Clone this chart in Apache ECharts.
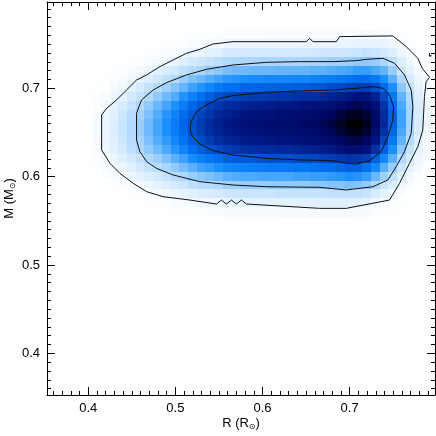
<!DOCTYPE html>
<html>
<head>
<meta charset="utf-8">
<script src="https://cdn.jsdelivr.net/npm/echarts@6/dist/echarts.min.js"></script>
<style>
html,body{margin:0;padding:0;background:#fff;}
#chart{width:436px;height:436px;}
</style>
</head>
<body>
<div id="chart"></div>
<script>
// Axis ranges and ticks
const rRange = [0.3526, 0.798];
const mRange = [0.3528, 0.7977];
const majorTicks = [0.4, 0.5, 0.6, 0.7];
const minorTicksR = [0.36,0.37,0.38,0.39,0.41,0.42,0.43,0.44,0.45,0.46,0.47,0.48,0.49,0.51,0.52,0.53,0.54,0.55,0.56,0.57,0.58,0.59,0.61,0.62,0.63,0.64,0.65,0.66,0.67,0.68,0.69,0.71,0.72,0.73,0.74,0.75,0.76,0.77,0.78,0.79];
const minorTicksM = minorTicksR;

// Density grid: cell centres
const rValues = [0.41,0.42,0.43,0.44,0.45,0.46,0.47,0.48,0.49,0.50,0.51,0.52,0.53,0.54,0.55,0.56,0.57,0.58,0.59,0.60,0.61,0.62,0.63,0.64,0.65,0.66,0.67,0.68,0.69,0.70,0.71,0.72,0.73,0.74,0.75,0.76,0.77,0.78,0.79];
const mValues = [0.76,0.75,0.74,0.73,0.72,0.71,0.70,0.69,0.68,0.67,0.66,0.65,0.64,0.63,0.62,0.61,0.60,0.59,0.58,0.57,0.56];

// density (0-100) per R column, listed from M=0.76 down to M=0.56
const densityByR = [
 [0,0,0,0,0,0.1,0.3,0.7,1.1,1.6,1.9,2,1.8,1.4,0.9,0.5,0.2,0,0,0,0],
 [0,0,0,0,0.1,0.3,1,2,3.1,4.2,4.8,5,4.6,3.8,2.7,1.5,0.7,0.2,0,0,0],
 [0,0,0,0,0.3,1,2.2,3.8,5.5,7,7.8,8,7.4,6.2,4.5,2.8,1.4,0.5,0.1,0,0],
 [0,0,0,0.1,0.6,1.8,3.7,6.1,8.6,11,12,12,11,9.6,7.1,4.6,2.5,1,0.2,0,0],
 [0,0,0.1,0.3,1.4,3.4,6.1,9.5,13,16,17,17,16,14,10,6.8,3.9,1.7,0.5,0.1,0],
 [0,0,0.2,0.9,2.7,5.5,9.5,13,18,20,22,22,20,18,13,9.5,5.5,2.7,0.9,0.2,0],
 [0,0.1,0.4,1.6,4.2,8,13,18,23,26,28,28,26,23,18,13,8,4.2,1.6,0.4,0.1],
 [0,0.2,0.9,2.9,6.5,11,17,23,29,32,34,34,32,28,22,16,10,5.6,2.4,0.6,0.1],
 [0.1,0.3,1.3,4,8.4,14,21,28,34,38,40,40,37,33,26,19,13,7.4,3.2,1,0.2],
 [0.1,0.5,2,5.1,10,17,25,32,40,44,46,46,43,38,31,23,16,9.2,4.4,1.5,0.4],
 [0.2,0.8,3.1,7.3,14,22,30,39,46,51,53,52,49,44,35,27,18,11,5.3,1.9,0.5],
 [0.3,1.3,4.3,9.3,17,26,35,45,53,57,60,59,56,50,41,31,22,14,6.9,2.7,0.8],
 [0.4,1.6,5,11,19,29,39,50,58,63,66,65,61,55,45,35,24,16,8.1,3.3,1],
 [0.6,2.1,6.2,13,22,32,43,55,64,68,71,70,66,59,48,37,26,16,8.5,3.6,1.1],
 [0.8,2.6,7,15,24,35,47,59,67,72,75,74,70,62,51,40,28,18,9.4,4.1,1.2],
 [1.2,3.9,9,17,27,38,50,62,71,75,78,76,73,66,55,43,31,21,11,5.5,1.9],
 [1.2,4,9.2,18,28,39,51,63,72,77,80,78,74,67,56,44,32,21,12,5.6,1.9],
 [1.2,4.1,9.4,18,28,40,53,65,74,79,82,80,76,69,57,45,33,22,12,5.7,2],
 [1.2,4.2,9.5,18,29,41,53,66,75,80,83,81,77,70,58,46,33,22,12,5.8,2],
 [1.3,4.2,9.7,19,29,41,54,66,76,81,84,82,78,71,59,46,34,22,12,5.9,2],
 [1.3,4.3,9.8,19,29,42,54,67,77,82,85,83,79,71,60,47,34,23,12,6,2],
 [1.3,4.3,9.9,19,30,42,55,68,78,83,86,84,80,72,60,47,34,23,13,6,2.1],
 [1.3,4.3,9.9,19,30,42,55,68,78,83,86,84,80,72,60,47,34,23,13,6,2.1],
 [1.3,4.4,10,19,30,43,56,69,79,84,87,85,81,73,61,48,35,23,13,6.1,2.1],
 [1.3,4.4,10,19,30,43,56,70,80,85,88,86,82,74,62,48,35,23,13,6.2,2.1],
 [1.3,4.5,10,20,31,44,57,70,81,86,89,87,83,75,62,49,36,24,13,6.2,2.1],
 [1.4,4.6,11,20,31,45,58,72,82,88,91,89,85,76,64,50,36,24,13,6.4,2.2],
 [1.4,4.7,11,21,32,46,60,74,84,90,93,91,87,78,65,51,37,25,14,6.5,2.2],
 [1.4,4.8,11,21,33,47,61,76,87,93,96,94,89,81,67,53,38,25,14,6.7,2.3],
 [1.5,5,11,22,34,49,63,78,90,96,99,97,92,83,69,55,40,26,14,6.9,2.4],
 [1.6,5.5,12,23,36,51,65,81,92,97,100,98,93,83,68,54,39,25,14,6.5,2],
 [1.7,5.8,13,23,36,50,65,80,89,95,97,95,89,80,65,50,36,23,13,5.8,1.7],
 [1.6,5.4,12,22,33,47,60,74,82,87,88,85,79,69,55,42,29,18,8.8,3.5,1],
 [1.5,4.9,10,19,30,40,52,62,68,71,72,69,63,54,43,31,21,12,5.8,1.9,0.5],
 [1,3.5,7.7,14,22,31,40,47,52,55,55,52,47,40,31,22,14,7.7,3.5,1,0.3],
 [0.3,1.3,3.7,7.5,12,18,24,30,33,35,35,33,30,24,18,12,7.5,3.7,1.3,0.3,0.1],
 [0.1,0.4,1.4,3.4,6.1,9.5,13,17,19,20,20,19,17,13,9.5,6.1,3.4,1.4,0.4,0.1,0],
 [0,0.1,0.4,1.1,2.3,3.9,5.5,7.3,8.3,8.9,8.9,8.3,7.3,5.5,3.9,2.3,1.1,0.4,0.1,0,0],
 [0,0,0.1,0.2,0.6,1.1,1.7,2.3,2.8,3,3,2.8,2.3,1.7,1.1,0.6,0.2,0.1,0,0,0]
];

// Contours (R, M)
const outerContour = [[0.4153,0.6698],[0.4210,0.6773],[0.4325,0.6868],[0.4439,0.6981],[0.4554,0.7094],[0.4669,0.7151],[0.4822,0.7245],[0.4974,0.7321],[0.5127,0.7396],[0.5280,0.7442],[0.5433,0.7502],[0.5662,0.7528],[0.6503,0.7528],[0.6541,0.7566],[0.6579,0.7528],[0.6847,0.7528],[0.6885,0.7585],[0.7496,0.7593],[0.7649,0.7472],[0.7783,0.7340],[0.7833,0.7227],[0.7917,0.7125],[0.7878,0.7075],[0.7859,0.6906],[0.7840,0.6528],[0.7783,0.6339],[0.7687,0.6151],[0.7573,0.5924],[0.7458,0.5735],[0.6961,0.5641],[0.6656,0.5641],[0.5815,0.5690],[0.5758,0.5735],[0.5700,0.5690],[0.5643,0.5735],[0.5586,0.5690],[0.5528,0.5735],[0.5471,0.5690],[0.5165,0.5735],[0.4860,0.5773],[0.4669,0.5830],[0.4516,0.5924],[0.4363,0.6037],[0.4248,0.6151],[0.4153,0.6302],[0.4153,0.6698]];
const smallContour = [[0.7915,0.7366],[0.7920,0.7384],[0.7932,0.7386],[0.7939,0.7368],[0.7934,0.7350],[0.7921,0.7349],[0.7915,0.7366],[0.7918,0.7400]];
const middleContour = [[0.4554,0.6415],[0.4554,0.6717],[0.4611,0.6868],[0.4745,0.6981],[0.4898,0.7064],[0.5127,0.7151],[0.5357,0.7215],[0.5662,0.7264],[0.6044,0.7294],[0.6426,0.7302],[0.6809,0.7302],[0.7076,0.7313],[0.7191,0.7328],[0.7382,0.7340],[0.7516,0.7283],[0.7630,0.7151],[0.7707,0.6981],[0.7726,0.6792],[0.7707,0.6490],[0.7630,0.6283],[0.7535,0.6113],[0.7439,0.5962],[0.7267,0.5886],[0.6961,0.5849],[0.6656,0.5879],[0.6044,0.5886],[0.5662,0.5905],[0.5280,0.5943],[0.4974,0.6019],[0.4783,0.6094],[0.4669,0.6170],[0.4592,0.6283],[0.4554,0.6415]];
const innerContour = [[0.5173,0.6509],[0.5173,0.6604],[0.5242,0.6736],[0.5357,0.6811],[0.5509,0.6887],[0.5662,0.6917],[0.6044,0.6955],[0.6426,0.6970],[0.6809,0.6981],[0.7076,0.7000],[0.7267,0.7019],[0.7382,0.7000],[0.7458,0.6925],[0.7504,0.6792],[0.7496,0.6641],[0.7439,0.6453],[0.7363,0.6283],[0.7229,0.6181],[0.7076,0.6143],[0.6961,0.6151],[0.6809,0.6181],[0.6426,0.6189],[0.6044,0.6207],[0.5662,0.6245],[0.5433,0.6294],[0.5280,0.6370],[0.5196,0.6453],[0.5173,0.6509]];

const colorStops = ['#ffffff','#d2e9ff','#a6d3ff','#63b3ff','#1a8fff','#0070f0','#004ec8','#002ea0','#00127c','#000660','#000000'];

const cells = [];
rValues.forEach((r, i) => {
  mValues.forEach((m, j) => {
    const v = densityByR[i][j];
    if (v > 0.05) cells.push([r, m, v]);
  });
});
const halfR = (rValues[1] - rValues[0]) / 2;
const halfM = (mValues[0] - mValues[1]) / 2;

const FONT = '"Liberation Sans", Arial, Helvetica, sans-serif';
const fmt = v => v.toFixed(1);

function mkAxis(pos, range, kind, withLabel, name, nameRich) {
  const ax = {
    type: 'value', position: pos, min: range[0], max: range[1], z: 10,
    splitLine: {show: false},
    axisLine: {show: kind === 'major', onZero: false, lineStyle: {color: '#000', width: 1}},
    axisTick: {show: true, inside: true, length: kind === 'major' ? 8 : 4,
      customValues: kind === 'major' ? majorTicks : (pos === 'bottom' || pos === 'top' ? minorTicksR : minorTicksM),
      lineStyle: {color: '#000', width: 1}},
    axisLabel: {show: withLabel, customValues: majorTicks, formatter: fmt,
      color: '#000', fontSize: 13, fontFamily: FONT, margin: 7}
  };
  if (name) {
    ax.name = name;
    ax.nameLocation = 'middle';
    ax.nameMoveOverlap = false;
    ax.nameTextStyle = {color: '#000', fontSize: 13, fontFamily: FONT, rich: nameRich};
  }
  return ax;
}

const rich = {
  n: {fontSize: 13, fontFamily: FONT, color: '#000', lineHeight: 16},
  s: {fontSize: 8, fontFamily: 'DejaVu Sans', color: '#000', lineHeight: 16, verticalAlign: 'bottom', padding: [6, 0, 0, 0]}
};

const xMain = mkAxis('bottom', rRange, 'major', true, '{n|R (R}{s|⊙}{n|)}', rich);
xMain.nameGap = 20;
const yMain = mkAxis('left', mRange, 'major', true, '{n|M (M}{s|⊙}{n|)}', rich);
yMain.nameGap = 30;
yMain.nameRotate = 90;

const chart = echarts.init(document.getElementById('chart'), null, {renderer: 'canvas'});
chart.setOption({
  animation: false,
  backgroundColor: '#fff',
  grid: {left: 47, top: 2, right: 1, bottom: 41, containLabel: false, outerBoundsMode: 'none'},
  xAxis: [
    xMain,
    mkAxis('bottom', rRange, 'minor', false),
    mkAxis('top', rRange, 'major', false),
    mkAxis('top', rRange, 'minor', false)
  ],
  yAxis: [
    yMain,
    mkAxis('left', mRange, 'minor', false),
    mkAxis('right', mRange, 'major', false),
    mkAxis('right', mRange, 'minor', false)
  ],
  visualMap: {
    type: 'continuous', show: false, min: 0, max: 100, dimension: 2, seriesIndex: 0,
    inRange: {color: colorStops}
  },
  series: [
    {
      type: 'custom', xAxisIndex: 0, yAxisIndex: 0, clip: true, z: 1,
      data: cells,
      renderItem: function (params, api) {
        const r = api.value(0), m = api.value(1);
        const p0 = api.coord([r - halfR, m + halfM]);
        const p1 = api.coord([r + halfR, m - halfM]);
        return {
          type: 'rect',
          shape: {x: Math.floor(p0[0]), y: Math.floor(p0[1]), width: Math.ceil(p1[0] - p0[0]) + 1, height: Math.ceil(p1[1] - p0[1]) + 1},
          style: {fill: api.visual('color')}
        };
      }
    },
    {type: 'line', data: outerContour, symbol: 'none', z: 3, lineStyle: {color: '#111', width: 1}},
    {type: 'line', data: smallContour, symbol: 'none', z: 3, lineStyle: {color: '#111', width: 1}},
    {type: 'line', data: middleContour, symbol: 'none', z: 3, lineStyle: {color: '#111', width: 1}},
    {type: 'line', data: innerContour, symbol: 'none', z: 3, lineStyle: {color: '#111', width: 1}}
  ]
});
</script>
</body>
</html>
